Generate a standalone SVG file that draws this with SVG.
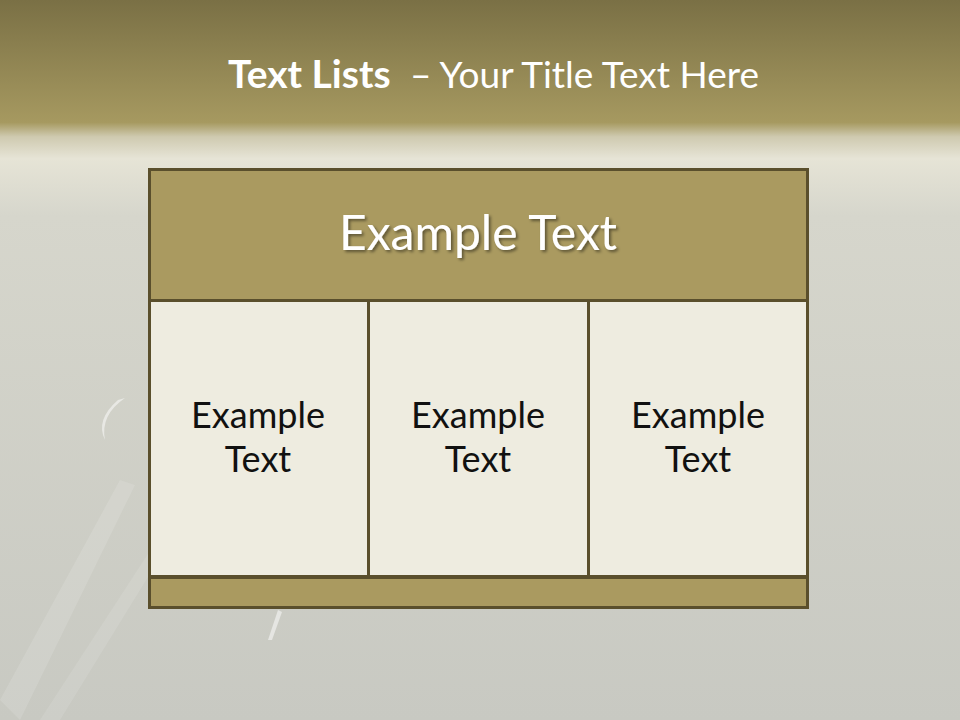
<svg xmlns="http://www.w3.org/2000/svg" width="960" height="720" viewBox="0 0 960 720">
<style>
.gold{fill:#aa9a60;stroke:#5a4f2c;stroke-width:3}
.cell{fill:#eeece0;stroke:#5a4f2c;stroke-width:3}
.body{font-family:Lato,"Liberation Sans",sans-serif;font-size:36px;fill:#111;text-anchor:middle}
.head{font-family:Lato,"Liberation Sans",sans-serif;font-size:48px;fill:#fff;text-anchor:middle}
.title{font-family:Lato,"Liberation Sans",sans-serif;fill:#fff}
</style>
<defs>
<linearGradient id="bg" x1="0" y1="0" x2="0" y2="1">
<stop offset="0" stop-color="#7a7045"/>
<stop offset="0.17" stop-color="#a69960"/>
<stop offset="0.19" stop-color="#cfcab0"/>
<stop offset="0.22" stop-color="#e6e4d6"/>
<stop offset="0.30" stop-color="#d6d6cc"/>
<stop offset="1" stop-color="#c8c9c2"/>
</linearGradient>
<filter id="sh" x="-10%" y="-10%" width="120%" height="130%">
<feDropShadow dx="2" dy="2" stdDeviation="1.5" flood-color="#000" flood-opacity="0.45"/>
</filter>
</defs>
<rect x="0" y="0" width="960" height="720" fill="url(#bg)"/>
<g id="streaks" fill="#ffffff">
<path d="M0 700 L120 480 L135 485 L20 720 Z" opacity="0.12"/>
<path d="M40 720 L170 520 L180 525 L60 720 Z" opacity="0.1"/>
<path d="M118 400 Q95 420 105 440 Q100 415 125 398 Z" opacity="0.5"/>
<path d="M268 640 L278 610 L282 612 L272 640 Z" opacity="0.5"/>
</g>
<g id="title">
<text x="228" y="88" class="title" font-size="39" font-weight="bold">Text Lists</text>
<text x="410" y="88" class="title" font-size="37">– Your Title Text Here</text>
</g>
<g id="header">
<rect x="149.5" y="169.5" width="658" height="131" class="gold"/>
<text x="478" y="250" class="head" filter="url(#sh)">Example Text</text>
</g>
<g id="cell1">
<rect x="149.5" y="300.5" width="219" height="276" class="cell"/>
<text x="258" y="428" class="body">Example</text>
<text x="258" y="472" class="body">Text</text>
</g>
<g id="cell2">
<rect x="368.5" y="300.5" width="220" height="276" class="cell"/>
<text x="478" y="428" class="body">Example</text>
<text x="478" y="472" class="body">Text</text>
</g>
<g id="cell3">
<rect x="588.5" y="300.5" width="219" height="276" class="cell"/>
<text x="698" y="428" class="body">Example</text>
<text x="698" y="472" class="body">Text</text>
</g>
<g id="footer">
<rect x="149.5" y="577.5" width="658" height="30" class="gold"/>
</g>
<g id="connectors"/>
</svg>
